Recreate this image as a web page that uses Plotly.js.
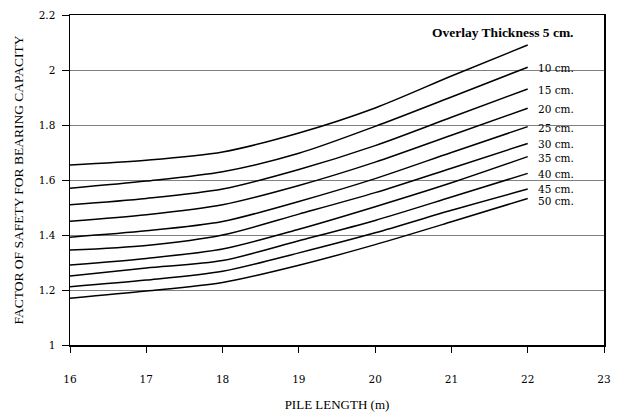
<!DOCTYPE html>
<html>
<head>
<meta charset="utf-8">
<script src="https://cdn.plot.ly/plotly-3.0.1.min.js"></script>
<style>html,body{margin:0;padding:0;background:#fff;}#chart{width:621px;height:414px;}</style>
</head>
<body>
<div id="chart"></div>
<script>
// Pile length (m)
var pileLength = [16, 17, 18, 19, 20, 21, 22];
// Overlay thickness (cm)
var thickness = [5, 10, 15, 20, 25, 30, 35, 40, 45, 50];
// Factor of safety series, one per overlay thickness
var fs5  = [1.655, 1.672, 1.702, 1.771, 1.862, 1.978, 2.091];
var fs10 = [1.570, 1.596, 1.630, 1.697, 1.795, 1.902, 2.010];
var fs15 = [1.510, 1.533, 1.567, 1.638, 1.725, 1.828, 1.931];
var fs20 = [1.450, 1.474, 1.510, 1.580, 1.665, 1.763, 1.861];
var fs25 = [1.392, 1.415, 1.449, 1.522, 1.605, 1.700, 1.794];
var fs30 = [1.345, 1.362, 1.400, 1.476, 1.554, 1.643, 1.733];
var fs35 = [1.291, 1.315, 1.349, 1.421, 1.503, 1.590, 1.685];
var fs40 = [1.251, 1.280, 1.307, 1.379, 1.453, 1.538, 1.624];
var fs45 = [1.212, 1.236, 1.268, 1.335, 1.408, 1.490, 1.567];
var fs50 = [1.170, 1.196, 1.227, 1.290, 1.365, 1.448, 1.533];
var series = [fs5, fs10, fs15, fs20, fs25, fs30, fs35, fs40, fs45, fs50];
var labels = ["5 cm.", "10 cm.", "15 cm.", "20 cm.", "25 cm.", "30 cm.", "35 cm.", "40 cm.", "45 cm.", "50 cm."];
var headerLabel = "Overlay Thickness 5 cm.";
var xTicks = [16, 17, 18, 19, 20, 21, 22, 23];
var yTicks = [1, 1.2, 1.4, 1.6, 1.8, 2, 2.2];
var yTickText = ["1", "1.2", "1.4", "1.6", "1.8", "2", "2.2"];

var traces = series.map(function (s, i) {
  return {
    x: pileLength, y: s, type: 'scatter', mode: 'lines',
    name: labels[i],
    line: {color: '#000', width: 1.5, shape: 'spline', smoothing: 0.8},
    hoverinfo: 'skip', showlegend: false
  };
});

var labelShift = {8: 1, 9: -2};
var annotations = [];
series.forEach(function (s, i) {
  if (i === 0) return;
  annotations.push({
    x: pileLength[pileLength.length - 1], y: s[s.length - 1],
    xref: 'x', yref: 'y', text: labels[i], showarrow: false,
    xanchor: 'left', yanchor: 'middle', xshift: 8,
    yshift: -1 + (labelShift[i] || 0),
    font: {family: 'DejaVu Serif', size: 10.5, color: '#000'}
  });
});
annotations.push({
  x: 0.948, y: 0.948, xref: 'paper', yref: 'paper', text: headerLabel,
  showarrow: false, xanchor: 'right', yanchor: 'middle',
  font: {family: 'Liberation Serif', size: 13.5, color: '#000', weight: 'bold'}
});

var layout = {
  width: 621, height: 414,
  margin: {l: 70, r: 17, t: 15, b: 69},
  paper_bgcolor: '#fff', plot_bgcolor: '#fff',
  showlegend: false,
  xaxis: {
    range: [16, 23], tickvals: xTicks, ticktext: xTicks.map(String),
    showgrid: false, zeroline: false,
    showline: true, linecolor: '#000', linewidth: 1.5, mirror: true,
    ticks: 'outside', ticklen: 6, tickcolor: '#000', tickwidth: 1,
    ticklabelstandoff: 18,
    tickfont: {family: 'DejaVu Serif', size: 10.5, color: '#000'},
    title: {text: 'PILE LENGTH (m)', standoff: 16,
      font: {family: 'Liberation Serif', size: 13, color: '#000'}}
  },
  yaxis: {
    range: [1, 2.2], tickvals: yTicks, ticktext: yTickText,
    showgrid: true, gridcolor: '#808080', gridwidth: 1, zeroline: false,
    showline: true, linecolor: '#000', linewidth: 1.5, mirror: true,
    ticks: 'outside', ticklen: 7, tickcolor: '#000', tickwidth: 1,
    ticklabelstandoff: 4,
    tickfont: {family: 'DejaVu Serif', size: 10.5, color: '#000'},
    title: {text: 'FACTOR OF SAFETY FOR BEARING CAPACITY', standoff: 12,
      font: {family: 'Liberation Serif', size: 13.5, color: '#000'}}
  },
  annotations: annotations
};

Plotly.newPlot('chart', traces, layout, {displayModeBar: false, staticPlot: true});
</script>
</body>
</html>
